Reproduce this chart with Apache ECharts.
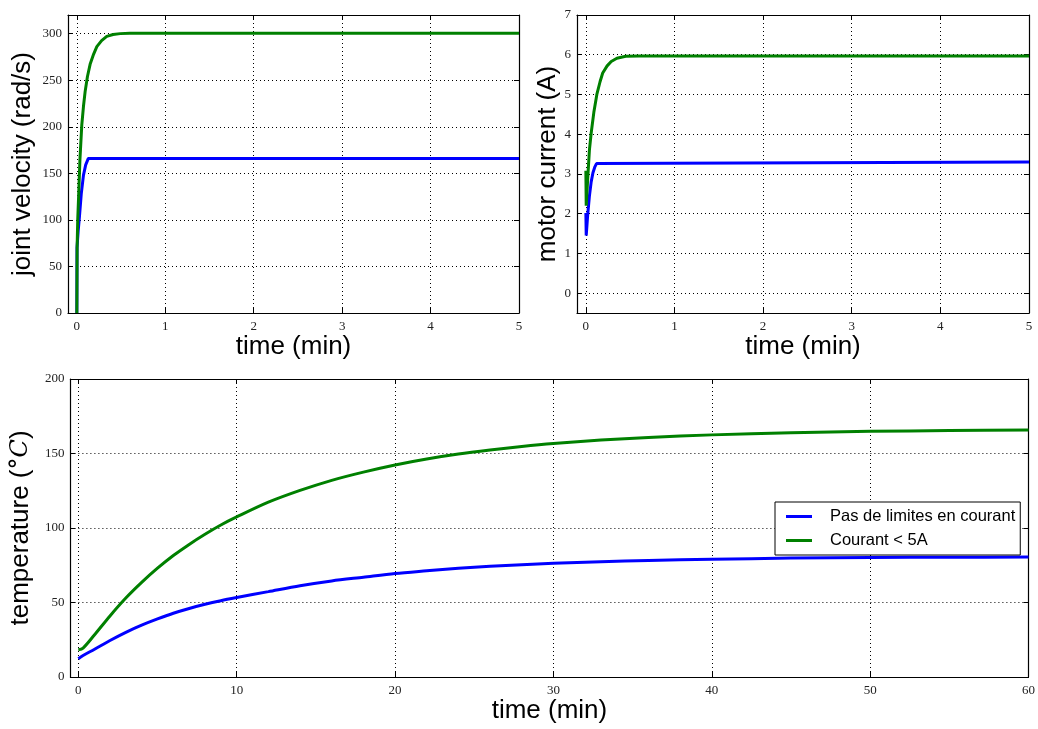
<!DOCTYPE html>
<html><head><meta charset="utf-8">
<script src="https://cdn.jsdelivr.net/npm/echarts@6/dist/echarts.min.js"></script>
<style>html,body{margin:0;padding:0;background:#fff}#c{width:1038px;height:729px}</style>
</head><body><div id="c"></div>
<script>
// ---- data ----
const seriesNames = ['Pas de limites en courant', 'Courant < 5A'];
const seriesColors = ['#0000ff', '#008000'];

// joint velocity (rad/s) vs time (min)
const velTimeBlue  = [0, 0.002, 0.015, 0.03, 0.05, 0.075, 0.1, 0.13, 0.14, 5];
const velBlue      = [0, 70, 88, 104, 128, 148, 159, 166, 166, 166];
const velTimeGreen = [0, 0.003, 0.01, 0.02, 0.035, 0.056, 0.075, 0.094, 0.12, 0.15, 0.19, 0.226, 0.28, 0.338, 0.41, 0.49, 0.6, 5];
const velGreen     = [0, 70, 100, 125, 165, 202, 222, 238, 254, 267, 278, 286, 292.5, 297, 299, 300, 300.3, 300.3];

// motor current (A) vs time (min)
const curTimeBlue  = [0, 0.004, 0.02, 0.04, 0.06, 0.08, 0.1, 0.12, 0.14, 5];
const curBlue      = [2.02, 1.45, 1.95, 2.44, 2.8, 3.03, 3.17, 3.26, 3.3, 3.3];
const curTimeGreen = [0, 0.004, 0.02, 0.04, 0.06, 0.09, 0.124, 0.16, 0.19, 0.24, 0.286, 0.35, 0.45, 0.6, 5];
const curGreen     = [3.08, 2.2, 2.85, 3.6, 4.03, 4.55, 5.0, 5.32, 5.54, 5.72, 5.83, 5.91, 5.96, 5.97, 5.97];

// temperature (°C) vs time (min)
const tempTime  = [0, 0.3, 1, 2, 3, 4, 5, 6, 7, 8, 9, 10, 12, 14, 16, 18, 20, 22, 24, 26, 28, 30, 33, 36, 40, 45, 50, 55, 60];
const tempBlue  = [12.3, 14.4, 18.5, 24.5, 30, 34.8, 39, 42.8, 46, 48.8, 51.2, 53.3, 57.3, 61.3, 64.5, 67, 69.5, 71.3, 73, 74.3, 75.4, 76.3, 77.4, 78.2, 79, 79.8, 80.2, 80.4, 80.5];
const tempGreen = [18.3, 19.4, 28, 41, 53, 63.5, 73, 81.5, 89, 95.8, 102, 107.4, 117.3, 125.2, 132, 137.5, 142.3, 146.3, 149.6, 152.3, 154.7, 156.7, 159, 160.8, 162.5, 164, 164.9, 165.4, 165.8];

// ---- helpers ----
const zip = (a, b) => a.map((x, i) => [x, b[i]]);
const SANS = 'Liberation Sans';
const SERIF = 'Liberation Serif';
const nameStyle = { fontFamily: SANS, fontSize: 26, color: '#000' };
function fmt(step) {
  return v => (Math.abs(v / step - Math.round(v / step)) < 1e-6) ? String(Math.round(v / step) * step) : '';
}
function mainAxis(kind, gi, min, max, step, name, gap, extra) {
  const a = {
    type: 'value', gridIndex: gi, min: min, max: max,
    position: kind === 'x' ? 'bottom' : 'left',
    axisLine: { show: true, onZero: false, lineStyle: { color: '#000', width: 1.2 } },
    axisTick: { show: true, inside: true, length: 5, lineStyle: { color: '#000', width: 1 } },
    axisLabel: { color: '#222', fontFamily: SERIF, fontSize: 13, margin: kind === 'x' ? 7 : 6, formatter: fmt(step) },
    splitLine: { show: true, lineStyle: { color: '#000', type: [1, 3], width: 1 } },
    name: name, nameLocation: 'middle', nameGap: gap, nameTextStyle: nameStyle
  };
  return Object.assign(a, extra || {});
}
function sideAxis(kind, gi, min, max, extra) {
  const a = {
    type: 'value', gridIndex: gi, min: min, max: max,
    position: kind === 'x' ? 'top' : 'right',
    axisLine: { show: true, onZero: false, lineStyle: { color: '#000', width: 1.2 } },
    axisTick: { show: true, inside: true, length: 5, lineStyle: { color: '#000', width: 1 } },
    axisLabel: { show: false },
    splitLine: { show: false }
  };
  return Object.assign(a, extra || {});
}
function line(name, color, xi, yi, data, smooth) {
  return {
    type: 'line', name: name, xAxisIndex: xi, yAxisIndex: yi, data: data,
    showSymbol: false, symbol: 'none', clip: true, animation: false,
    smooth: smooth || false,
    lineStyle: { color: color, width: 3 }, itemStyle: { color: color }
  };
}

const chart = echarts.init(document.getElementById('c'), null, { renderer: 'canvas' });
chart.setOption({
  backgroundColor: '#fff',
  animation: false,
  grid: [
    { left: 68, top: 15, width: 451, height: 298 },
    { left: 577, top: 15, width: 452, height: 298 },
    { left: 67, top: 379, width: 962, height: 298 }
  ],
  xAxis: [
    mainAxis('x', 0, -0.1, 5, 1, 'time (min)', 20, { splitNumber: 5 }),
    mainAxis('x', 1, -0.1, 5, 1, 'time (min)', 20, { splitNumber: 5 }),
    mainAxis('x', 2, -0.5, 60, 10, 'time (min)', 21, { splitNumber: 6 }),
    sideAxis('x', 0, -0.1, 5, { splitNumber: 5 }),
    sideAxis('x', 1, -0.1, 5, { splitNumber: 5 }),
    sideAxis('x', 2, -0.5, 60, { splitNumber: 6 })
  ],
  yAxis: [
    mainAxis('y', 0, 0, 320, 50, 'joint velocity (rad/s)', 32, { interval: 50 }),
    mainAxis('y', 1, -0.5, 7, 1, 'motor current (A)', 15, { splitNumber: 8 }),
    Object.assign(mainAxis('y', 2, 0, 200, 50, 'temperature ({d|°}{c|C})', 32, { interval: 50 }), {
      nameTextStyle: Object.assign({}, nameStyle, {
        rich: {
          d: { fontFamily: 'DejaVu Serif', fontSize: 24, color: '#000' },
          c: { fontFamily: 'DejaVu Serif', fontSize: 24, fontStyle: 'italic', color: '#000' }
        }
      })
    }),
    sideAxis('y', 0, 0, 320, { interval: 50 }),
    sideAxis('y', 1, -0.5, 7, { splitNumber: 8 }),
    sideAxis('y', 2, 0, 200, { interval: 50 })
  ],
  legend: {
    show: true, orient: 'vertical', left: 775, top: 502,
    data: seriesNames, icon: 'rect', itemWidth: 26, itemHeight: 3, itemGap: 7,
    textStyle: { fontFamily: SANS, fontSize: 16.5, color: '#000', padding: [0, 0, 0, 13] },
    borderColor: '#000', borderWidth: 1, borderRadius: 0, padding: [6, 5, 6, 11],
    backgroundColor: '#fff', selectedMode: false
  },
  series: [
    line(seriesNames[0], seriesColors[0], 0, 0, zip(velTimeBlue, velBlue)),
    line(seriesNames[1], seriesColors[1], 0, 0, zip(velTimeGreen, velGreen)),
    line(seriesNames[0], seriesColors[0], 1, 1, zip(curTimeBlue, curBlue)),
    line(seriesNames[1], seriesColors[1], 1, 1, zip(curTimeGreen, curGreen)),
    line(seriesNames[0], seriesColors[0], 2, 2, zip(tempTime, tempBlue), 0.3),
    line(seriesNames[1], seriesColors[1], 2, 2, zip(tempTime, tempGreen), 0.3)
  ]
});
</script>
</body></html>
